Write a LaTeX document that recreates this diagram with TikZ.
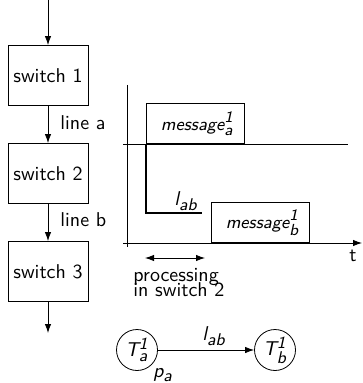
\documentclass[tikz,border=0pt]{standalone}
\usepackage{amsmath}
\usetikzlibrary{arrows.meta}
\DeclareMathSizes{10}{10}{8.5}{6}
\DeclareMathSizes{9}{9}{8}{6}
\begin{document}
\begin{tikzpicture}[x=0.5pt,y=-0.5pt,font=\sffamily,line width=0.4pt,
  >={Latex[length=4.5pt,width=3.2pt]},
  sw/.style={draw,minimum width=40pt,minimum height=30pt,inner sep=0pt},
  msg/.style={draw,minimum width=49pt,minimum height=20pt,inner sep=0pt,anchor=south west,font=\sffamily\small},
  st/.style={draw,circle,minimum size=20.5pt,inner sep=0pt},
  lbl/.style={inner sep=0pt},
  thickl/.style={line width=1.1pt}]
\useasboundingbox (0,0) rectangle (362,383);
% left column
\coordinate (top) at (48,0);
\node[sw] (s1) at (48,75.5) {switch 1};
\node[sw] (s2) at (48,173.5) {switch 2};
\node[sw] (s3) at (48,271.5) {switch 3};
\coordinate (bot) at (48,333);
\draw[->] (top) -- (s1.north);
\draw[->] (s1.south) -- (s2.north);
\draw[->] (s2.south) -- (s3.north);
\draw[->] (s3.south) -- (bot);
\node[lbl,anchor=west] (la) at (60,123) {line a};
\node[lbl,anchor=west] (lb) at (60,220) {line b};
% chart
\coordinate (vt) at (127,85);
\coordinate (vb) at (127,247);
\coordinate (hl) at (123,243);
\coordinate (hr) at (362,243);
\coordinate (ul) at (123,144);
\coordinate (ur) at (348,144);
\draw (vt) -- (vb);
\draw[->] (hl) -- (hr);
\draw (ul) -- (ur);
\node[lbl] (t) at (353,256) {t};
\node[msg] (ma) at (146,144) {\hspace{2pt}$\textit{message}^{\textit{1}}_{\textit{a}}$};
\node[msg] (mb) at (211,243) {\hspace{2pt}$\textit{message}^{\textit{1}}_{\textit{b}}$};
\coordinate (k1) at (146,144);
\coordinate (k2) at (146,213);
\coordinate (k3) at (202,213);
\draw[thickl] (k1) -- (k2) -- (k3);
\node[lbl] (lab1) at (186,201) {$\textit{l}_{\textit{ab}}$};
\coordinate (pa1) at (145,258);
\coordinate (pa2) at (205,258);
\draw[<->] (pa1) -- (pa2);
\node[lbl,anchor=north west,align=left] (proc) at (133,268) {processing\\[-4.5pt]in switch 2};
% bottom graph
\node[st] (ta) at (137,350) {$\textit{T}^{\textit{1}}_{\textit{a}}$};
\node[st] (tb) at (275,350) {$\textit{T}^{\textit{1}}_{\textit{b}}$};
\draw[->] (ta) -- node[lbl,above=2pt,xshift=4pt] (lab2) {$\textit{l}_{\textit{ab}}$} (tb);
\node[lbl] (pa) at (163,375) {$\textit{p}_{\textit{a}}$};
\end{tikzpicture}
\end{document}
